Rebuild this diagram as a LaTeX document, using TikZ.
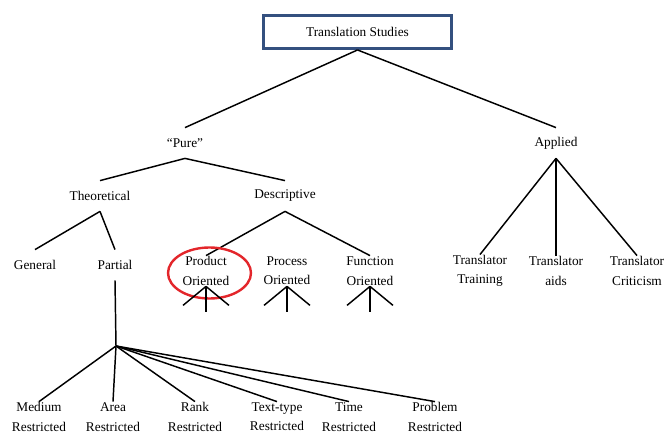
\documentclass[tikz,border=0pt]{standalone}
\usepackage{fontspec}
\setmainfont{Liberation Serif}
\usetikzlibrary{calc,positioning}
\definecolor{rootblue}{HTML}{34507F}
\definecolor{ringred}{HTML}{E3262B}
\def\figlinewidth{1.1pt}
\def\figstubx{23}
\def\figstuby{19}
\def\figstubdepth{26}

\begin{document}
\begin{tikzpicture}[
  x=0.75pt,y=-0.75pt,
  line width=\figlinewidth,
  term/.style={font=\fontsize{10}{14.5}\selectfont,align=center,inner sep=0pt,minimum height=22pt},
  rootbox/.style={term,draw=rootblue,line width=2.2pt,minimum width=141pt,minimum height=24.75pt},
  ring/.style={draw=ringred,line width=1.8pt},
]
\useasboundingbox (0,0) rectangle (664,434);

%%%%%%%%%%%%%%%
% Top Part
%%%%%%%%%%%%%%%
\node (root) [rootbox] at (357.5,32) {Translation Studies};
\node (pure) [term] at (185,143) {``Pure''};
\node (appl) [term] at (556,143) {Applied};
\draw (root.south) -- (pure.north);
\draw (root.south) -- (appl.north);

%%%%%%%%%%%%%%%
% Pure Part
%%%%%%%%%%%%%%%
\node (theo) [term] at (100,196) {Theoretical};
\node (desc) [term] at (285,196) {Descriptive};
\draw (pure.south) -- (theo.north);
\draw (pure.south) -- (desc.north);

% Theoretical
\node (gen) [term] at (35,265) {General};
\node (part) [term] at (115,265) {Partial};
\draw (theo.south) -- (gen.north);
\draw (theo.south) -- (part.north);

% Descriptive
\node (prod) [term] at (206,271) {Product\\Oriented};
\node (proc) [term] at (287,271) {Process\\Oriented};
\node (func) [term] at (370,271) {Function\\Oriented};
\draw (desc.south) -- (prod.north);
\draw (desc.south) -- (func.north);
\draw [ring] ($(prod.center)+(3.5,2)$) ellipse [x radius=41.5,y radius=25.5];

% Stubs below the oriented nodes
\foreach \n in {prod,proc,func} {
  \coordinate (\n-l) at ($(\n.south)+(-\figstubx,\figstuby)$);
  \coordinate (\n-m) at ($(\n.south)+(0,\figstubdepth)$);
  \coordinate (\n-r) at ($(\n.south)+(\figstubx,\figstuby)$);
  \draw (\n.south) -- (\n-l);
  \draw (\n.south) -- (\n-m);
  \draw (\n.south) -- (\n-r);
}

%%%%%%%%%%%%%%%
% Partial Part
%%%%%%%%%%%%%%%
\coordinate (hub) at (116,346);
\draw (part.south) -- (hub);

\node (med) [term] at (39,417) {Medium\\Restricted};
\node (area) [term] at (113,417) {Area\\Restricted};
\node (rank) [term] at (195,417) {Rank\\Restricted};
\node (ttype) [term] at (277,417) {Text-type\\Restricted};
\node (time) [term] at (349,417) {Time\\Restricted};
\node (prob) [term] at (435,417) {Problem\\Restricted};
\foreach \n in {med,area,rank,ttype,time,prob}
  \draw (hub) -- (\n.north);

%%%%%%%%%%%%%%%
% Applied Part
%%%%%%%%%%%%%%%
\node (train) [term] at (480,271) {Translator\\Training};
\node (aids) [term] at (556,271) {Translator\\aids};
\node (crit) [term] at (637,271) {Translator\\Criticism};
\foreach \n in {train,aids,crit}
  \draw (appl.south) -- (\n.north);

\end{tikzpicture}
\end{document}
